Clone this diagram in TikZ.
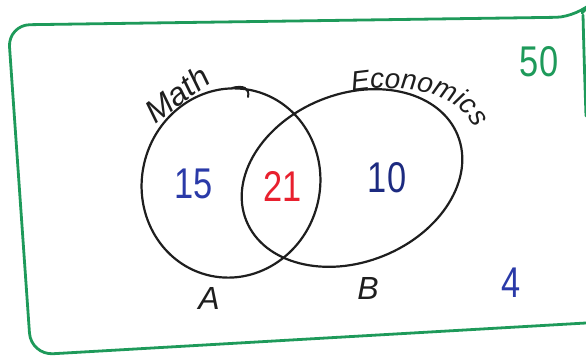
\documentclass[tikz,border=0pt]{standalone}
\usepackage{fontspec}
\setmainfont{Liberation Sans}
\newfontfamily\numfont[FakeStretch=0.8]{Liberation Sans}
\usetikzlibrary{shapes.geometric,decorations.text}
\definecolor{frameG}{HTML}{1E9A5A}
\definecolor{numB}{HTML}{2A3AA8}
\definecolor{numDB}{HTML}{1C2A80}
\definecolor{numR}{HTML}{E8202E}
\definecolor{ink}{HTML}{1E1E1E}
\tikzset{
  frame/.style={draw=frameG, line width=2.8pt, line cap=round, line join=round},
  setring/.style={ellipse, draw=ink, line width=2.2pt, inner sep=0pt, outer sep=0pt},
  num/.style={font=\numfont\fontsize{43}{43}\selectfont, inner sep=0pt},
  lbl/.style={font=\fontsize{32}{32}\selectfont\itshape, inner sep=0pt, text=ink},
}
\begin{document}
\begin{tikzpicture}[x=1pt,y=1pt]
\useasboundingbox (0,0) rectangle (586,356);
% universal frame
\draw[frame, rounded corners=22pt] (582,343) -- (578,339) -- (8,331) -- (31,1) -- (586,33);
\draw[frame] (583,341) .. controls (584,300) and (585,270) .. (586,240);
% sets
\node[setring, minimum width=178pt, minimum height=190pt, rotate=-15] (A) at (231,173) {};
\node[setring, minimum width=228pt, minimum height=168pt, rotate=22] (B) at (352,178) {};
% hook at top of A
\draw[ink, line width=2pt, line cap=round] (232,268) .. controls (243,271) and (250,268) .. (248,259);
% labels
\node[lbl, rotate=37] (math) at (177,262) {Math};
\path[decorate, decoration={text along path, text={|\fontsize{28}{28}\selectfont\itshape\color{ink}|Economics}, text align=center}]
  (342,263) .. controls (400,274) and (462,268) .. (479,218);
% numbers
\node[num, text=numB] (n15) at (194,172) {15};
\node[num, text=numR] (n21) at (283,170) {21};
\node[num, text=numDB] (n10) at (387,178) {10};
\node[num, text=numB] (n4) at (511,73) {4};
\node[num, text=frameG] (n50) at (539,294) {50};
\node[lbl] (la) at (209,58) {A};
\node[lbl] (lb) at (368,68) {B};
\end{tikzpicture}
\end{document}
